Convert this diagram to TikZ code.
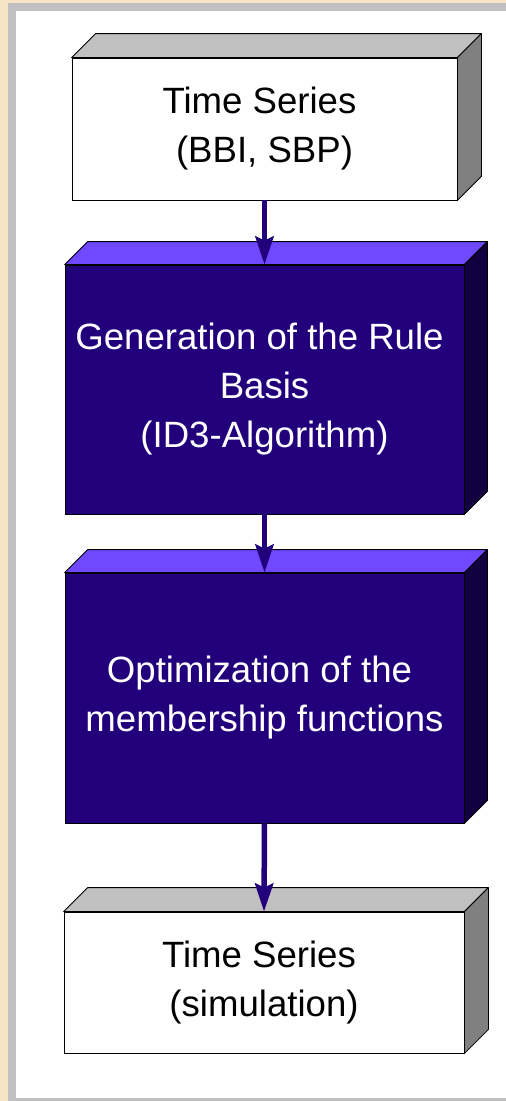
\documentclass[tikz,border=0pt]{standalone}
\usepackage{fontspec}
\setmainfont{Liberation Sans}
\usetikzlibrary{arrows.meta}
\definecolor{parch}{RGB}{245,229,196}
\definecolor{framegray}{RGB}{192,192,192}
\definecolor{navyfront}{RGB}{34,0,124}
\definecolor{navytop}{RGB}{112,72,255}
\definecolor{navyside}{RGB}{18,0,64}
\definecolor{greytop}{RGB}{192,192,192}
\definecolor{greyside}{RGB}{128,128,128}
\begin{document}
\begin{tikzpicture}[x=1pt,y=-1pt,
  boxtext/.style={font=\fontsize{36.6pt}{49pt}\selectfont, align=center, inner sep=0pt},
  whitebox/.style={boxtext, draw=black, line width=0.8pt, fill=white, text=black},
  navybox/.style={boxtext, draw=black, line width=0.8pt, fill=navyfront, text=white},
  greytopface/.style={fill=greytop, draw=black, line width=0.8pt, line join=round},
  greysideface/.style={fill=greyside, draw=black, line width=0.8pt, line join=round},
  navytopface/.style={fill=navytop, draw=black, line width=0.8pt, line join=round},
  navysideface/.style={fill=navyside, draw=black, line width=0.8pt, line join=round},
  flowarrow/.style={draw=navyfront, line width=5.5pt, -{Stealth[length=28pt,width=18pt,inset=4pt]}}
]
\useasboundingbox (0,0) rectangle (506,1101);
\fill[parch] (0,0) rectangle (506,1101);
\fill[framegray] (8,3) rectangle (506,1101);
\fill[white] (16,11) rectangle (506,1098);

% box 1
\node[whitebox, minimum width=385pt, minimum height=142pt] (b1) at (264.5,129)
  {Time Series\kern10pt\\(BBI, SBP)};
\draw[greytopface] (b1.north west) -- ([xshift=24pt,yshift=24pt]b1.north west)
  -- ([xshift=24pt,yshift=24pt]b1.north east) -- (b1.north east) -- cycle;
\draw[greysideface] (b1.north east) -- ([xshift=24pt,yshift=24pt]b1.north east)
  -- ([xshift=24pt,yshift=24pt]b1.south east) -- (b1.south east) -- cycle;

% box 2
\node[navybox, minimum width=399pt, minimum height=249pt] (b2) at (264.5,389.5)
  {Generation of the Rule\kern10pt\\Basis\\(ID3-Algorithm)};
\draw[navytopface] (b2.north west) -- ([xshift=23pt,yshift=23pt]b2.north west)
  -- ([xshift=23pt,yshift=23pt]b2.north east) -- (b2.north east) -- cycle;
\draw[navysideface] (b2.north east) -- ([xshift=23pt,yshift=23pt]b2.north east)
  -- ([xshift=23pt,yshift=23pt]b2.south east) -- (b2.south east) -- cycle;

% box 3
\node[navybox, minimum width=399pt, minimum height=250pt] (b3) at (264.5,698)
  {Optimization of the\kern10pt\\membership functions};
\draw[navytopface] (b3.north west) -- ([xshift=23pt,yshift=23pt]b3.north west)
  -- ([xshift=23pt,yshift=23pt]b3.north east) -- (b3.north east) -- cycle;
\draw[navysideface] (b3.north east) -- ([xshift=23pt,yshift=23pt]b3.north east)
  -- ([xshift=23pt,yshift=23pt]b3.south east) -- (b3.south east) -- cycle;

% box 4
\node[whitebox, minimum width=400pt, minimum height=141pt] (b4) at (264,982.5)
  {Time Series\kern10pt\\(simulation)};
\draw[greytopface] (b4.north west) -- ([xshift=24pt,yshift=24pt]b4.north west)
  -- ([xshift=24pt,yshift=24pt]b4.north east) -- (b4.north east) -- cycle;
\draw[greysideface] (b4.north east) -- ([xshift=24pt,yshift=24pt]b4.north east)
  -- ([xshift=24pt,yshift=24pt]b4.south east) -- (b4.south east) -- cycle;

% arrows
\draw[flowarrow] (b1.south) -- (b2.north);
\draw[flowarrow] (b2.south) -- (b3.north);
\draw[flowarrow] (b3.south) -- (b4.north);
\end{tikzpicture}
\end{document}
